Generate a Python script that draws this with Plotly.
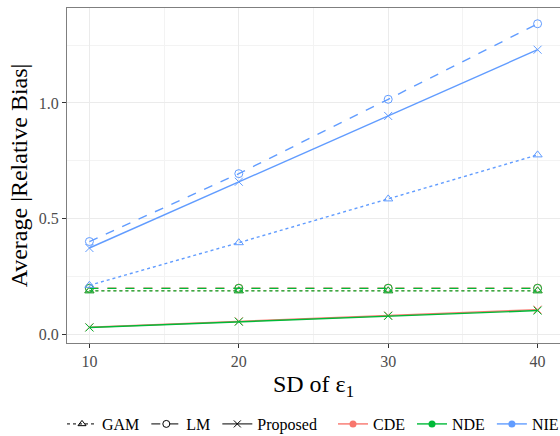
import plotly.graph_objects as go

sd = [10, 20, 30, 40]
effects = ["CDE", "NDE", "NIE"]
methods = ["GAM", "LM", "Proposed"]
colors = {"CDE": "#F8766D", "NDE": "#00BA38", "NIE": "#619CFF"}
dashes = {"GAM": "dot", "LM": "dash", "Proposed": "solid"}
symbols = {"GAM": "triangle-up-open", "LM": "circle-open", "Proposed": "x-thin-open"}

values = {
    ("CDE", "GAM"): [0.190, 0.190, 0.190, 0.190],
    ("CDE", "LM"): [0.201, 0.201, 0.201, 0.201],
    ("CDE", "Proposed"): [0.032, 0.058, 0.083, 0.108],
    ("NDE", "GAM"): [0.189, 0.189, 0.189, 0.189],
    ("NDE", "LM"): [0.200, 0.200, 0.200, 0.200],
    ("NDE", "Proposed"): [0.031, 0.056, 0.081, 0.104],
    ("NIE", "GAM"): [0.213, 0.397, 0.586, 0.776],
    ("NIE", "LM"): [0.402, 0.695, 1.016, 1.342],
    ("NIE", "Proposed"): [0.374, 0.660, 0.944, 1.230],
}

FONT = "Liberation Serif, Times New Roman, serif"
LEGEND_FONT = 16
# approximate text widths in Times-metric em units for compact legend entries
em = {"GAM": 2.333, "LM": 1.5, "Proposed": 3.722, "CDE": 2.0, "NDE": 2.055, "NIE": 1.666}

fig = go.Figure()

for eff in effects:
    for m in methods:
        fig.add_trace(go.Scatter(
            x=sd, y=values[(eff, m)], mode="lines+markers",
            line=dict(color=colors[eff], width=1.4, dash=dashes[m]),
            marker=dict(symbol=symbols[m], size=8, color=colors[eff],
                        line=dict(width=1, color=colors[eff])),
            showlegend=False, hoverinfo="skip"))

# linetype legend
for m in methods:
    fig.add_trace(go.Scatter(
        x=[None], y=[None], mode="lines+markers", name=m,
        line=dict(color="black", width=1, dash=dashes[m]),
        marker=dict(symbol=symbols[m], size=7, color="black",
                    line=dict(width=1, color="black")),
        legend="legend", legendwidth=em[m] * LEGEND_FONT + 2))
# colour legend
for eff in effects:
    fig.add_trace(go.Scatter(
        x=[None], y=[None], mode="lines+markers", name=eff,
        line=dict(color=colors[eff], width=1.4),
        marker=dict(symbol="circle", size=7, color=colors[eff]),
        legend="legend2", legendwidth=em[eff] * LEGEND_FONT + 2))

axis_common = dict(
    showline=True, linecolor="#7f7f7f", linewidth=1, mirror=True,
    ticks="outside", ticklen=4, tickcolor="#333333", tickwidth=1,
    showgrid=True, gridcolor="#EBEBEB", gridwidth=1,
    zeroline=False, automargin=False,
    tickfont=dict(family=FONT, size=16, color="#4D4D4D"),
)

fig.update_layout(
    width=560, height=436,
    margin=dict(l=67, r=0, t=8, b=93, autoexpand=False),
    paper_bgcolor="white", plot_bgcolor="white",
    font=dict(family=FONT, color="black"),
    xaxis=dict(range=[8.5, 41.5], tickvals=[10, 20, 30, 40],
               minor=dict(tickvals=[15, 25, 35], showgrid=True, gridcolor="#F3F3F3", gridwidth=0.8, ticks=""),
               title=dict(text="SD of ε<sub>1</sub>", font=dict(family=FONT, size=24), standoff=5),
               **axis_common),
    yaxis=dict(range=[-0.036, 1.41], tickvals=[0, 0.5, 1.0], ticktext=["0.0", "0.5", "1.0"],
               minor=dict(tickvals=[0.25, 0.75, 1.25], showgrid=True, gridcolor="#F3F3F3", gridwidth=0.8, ticks=""),
               title=dict(text="Average |Relative Bias|", font=dict(family=FONT, size=24), standoff=4),
               **axis_common),
    legend=dict(orientation="h", xref="container", yref="container", x=62 / 560, xanchor="left",
                y=0.0275, yanchor="middle",
                font=dict(family=FONT, size=LEGEND_FONT), itemwidth=30, bgcolor="rgba(0,0,0,0)"),
    legend2=dict(orientation="h", xref="container", yref="container", x=333 / 560, xanchor="left",
                 y=0.0275, yanchor="middle",
                 font=dict(family=FONT, size=LEGEND_FONT), itemwidth=30, bgcolor="rgba(0,0,0,0)"),
)

fig.write_html("out.html")
